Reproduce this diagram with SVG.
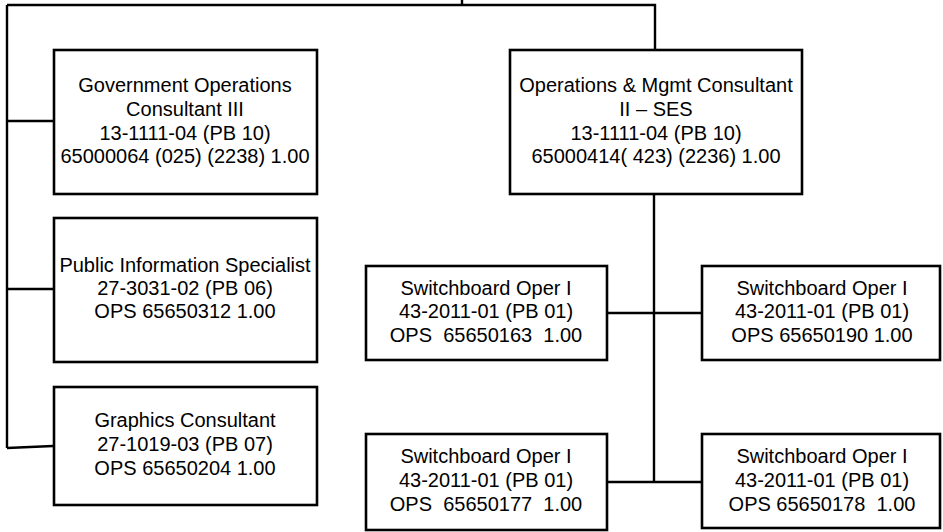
<svg xmlns="http://www.w3.org/2000/svg" width="943" height="532" viewBox="0 0 943 532">
  <style>
    .box { fill: #ffffff; stroke: #000000; stroke-width: 2.6; }
    .line { fill: none; stroke: #000000; stroke-width: 2.4; }
    text { font-family: "Liberation Sans", Arial, sans-serif; font-size: 20px; fill: #000000; text-anchor: middle; }
  </style>
  <rect width="943" height="532" fill="#ffffff"/>
  <g id="connectors">
    <path class="line" d="M462 0 V5 M7 5 H655 V50"/>
    <path class="line" d="M7 5 V448"/>
    <path class="line" d="M7 121 H53"/>
    <path class="line" d="M7 289 H53"/>
    <path class="line" d="M7 448 L53 446"/>
    <path class="line" d="M654 194 V482"/>
    <path class="line" d="M607 313 H702"/>
    <path class="line" d="M607 482 H702"/>
  </g>
  <g id="gov-ops-consultant">
    <rect class="box" x="54" y="50" width="263" height="144"/>
    <text x="185" y="92">Government Operations</text>
    <text x="185" y="116">Consultant III</text>
    <text x="185" y="140">13-1111-04 (PB 10)</text>
    <text x="185" y="163">65000064 (025) (2238) 1.00</text>
  </g>
  <g id="ops-mgmt-consultant">
    <rect class="box" x="510" y="50" width="292" height="144"/>
    <text x="656" y="92">Operations &amp; Mgmt Consultant</text>
    <text x="656" y="116">II – SES</text>
    <text x="656" y="140">13-1111-04 (PB 10)</text>
    <text x="656" y="163">65000414( 423) (2236) 1.00</text>
  </g>
  <g id="public-info-specialist">
    <rect class="box" x="54" y="218" width="263" height="144"/>
    <text x="185" y="272">Public Information Specialist</text>
    <text x="185" y="295">27-3031-02 (PB 06)</text>
    <text x="185" y="318">OPS 65650312 1.00</text>
  </g>
  <g id="graphics-consultant">
    <rect class="box" x="54" y="387" width="263" height="118"/>
    <text x="185" y="427">Graphics Consultant</text>
    <text x="185" y="451">27-1019-03 (PB 07)</text>
    <text x="185" y="475">OPS 65650204 1.00</text>
  </g>
  <g id="switchboard-163">
    <rect class="box" x="366" y="266" width="241" height="94"/>
    <text x="486" y="295">Switchboard Oper I</text>
    <text x="486" y="318">43-2011-01 (PB 01)</text>
    <text x="486" y="342" xml:space="preserve">OPS  65650163  1.00</text>
  </g>
  <g id="switchboard-190">
    <rect class="box" x="702" y="266" width="238" height="94"/>
    <text x="822" y="295">Switchboard Oper I</text>
    <text x="822" y="318">43-2011-01 (PB 01)</text>
    <text x="822" y="342">OPS 65650190 1.00</text>
  </g>
  <g id="switchboard-177">
    <rect class="box" x="366" y="434" width="241" height="96"/>
    <text x="486" y="463">Switchboard Oper I</text>
    <text x="486" y="487">43-2011-01 (PB 01)</text>
    <text x="486" y="511" xml:space="preserve">OPS  65650177  1.00</text>
  </g>
  <g id="switchboard-178">
    <rect class="box" x="702" y="434" width="238" height="94"/>
    <text x="822" y="463">Switchboard Oper I</text>
    <text x="822" y="487">43-2011-01 (PB 01)</text>
    <text x="822" y="511" xml:space="preserve">OPS 65650178  1.00</text>
  </g>
</svg>
